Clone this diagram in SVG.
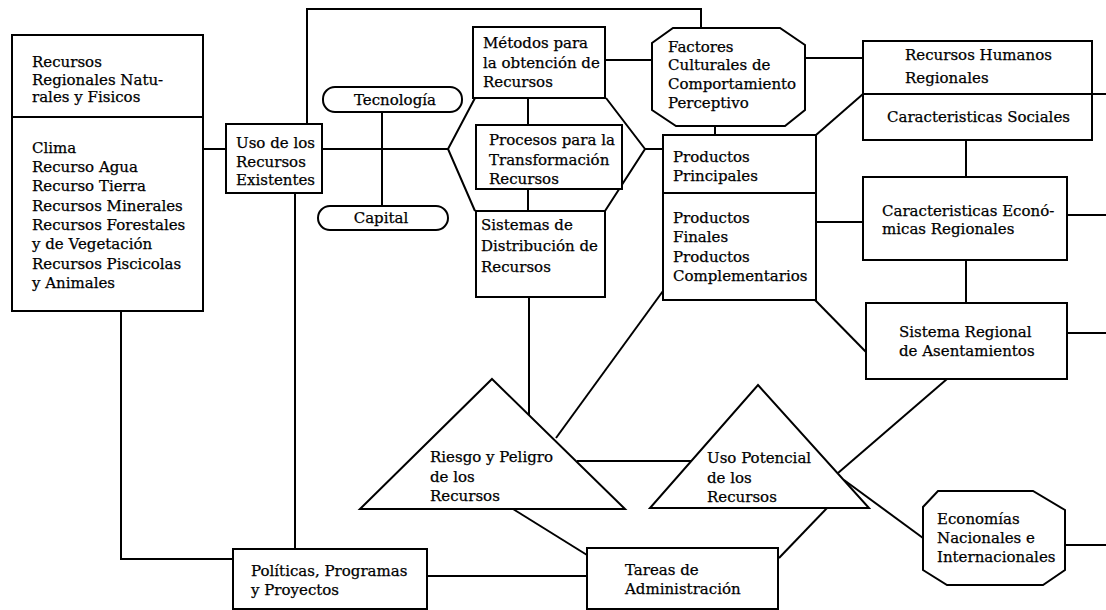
<svg xmlns="http://www.w3.org/2000/svg" width="1106" height="610" viewBox="0 0 1106 610">
<style>
.n{fill:#fff;stroke:#000;stroke-width:2}
.c{fill:none;stroke:#000;stroke-width:2}
text{font-family:"DejaVu Serif","Liberation Serif",serif;font-size:15px;fill:#000;stroke:#000;stroke-width:0.25}
</style>
<rect width="1106" height="610" fill="#fff"/>
<g id="connectors">
<path class="c" d="M203,149H226"/>
<path class="c" d="M307,124V9H701V28"/>
<path class="c" d="M322,149H448"/>
<path class="c" d="M382,112V206"/>
<path class="c" d="M475,98L448,149L475,211"/>
<path class="c" d="M606,98L645,149L605,211"/>
<path class="c" d="M528,98V125M528,189V211"/>
<path class="c" d="M529,297V415"/>
<path class="c" d="M645,149H663"/>
<path class="c" d="M605,60H652"/>
<path class="c" d="M805,58H863"/>
<path class="c" d="M715,126V135"/>
<path class="c" d="M816,135L863,94"/>
<path class="c" d="M816,222H863"/>
<path class="c" d="M966,140V177M966,260V303"/>
<path class="c" d="M1092,94H1106M1067,215H1106M1067,333H1106"/>
<path class="c" d="M815,300L866,352"/>
<path class="c" d="M663,291L556,438"/>
<path class="c" d="M577,461H691"/>
<path class="c" d="M513,509L587,555"/>
<path class="c" d="M827,508L779,558"/>
<path class="c" d="M838,473L947,379"/>
<path class="c" d="M844,480L923,538"/>
<path class="c" d="M1065,545H1106"/>
<path class="c" d="M121,311V559H233"/>
<path class="c" d="M295,193V549"/>
<path class="c" d="M427,576H587"/>
</g>
<g id="recursos-naturales">
<rect class="n" x="12" y="35" width="191" height="276"/>
<path class="c" d="M12,117H203"/>
<text x="32" y="67">Recursos</text>
<text x="32" y="85">Regionales Natu-</text>
<text x="32" y="102">rales y Fisicos</text>
<text x="32" y="153">Clima</text>
<text x="32" y="172">Recurso Agua</text>
<text x="32" y="191">Recurso Tierra</text>
<text x="32" y="211">Recursos Minerales</text>
<text x="32" y="230">Recursos Forestales</text>
<text x="32" y="249">y de Vegetación</text>
<text x="32" y="269">Recursos Piscicolas</text>
<text x="32" y="288">y Animales</text>
</g>
<g id="uso-recursos">
<rect class="n" x="226" y="124" width="96" height="69"/>
<text x="236" y="148">Uso de los</text>
<text x="236" y="167">Recursos</text>
<text x="236" y="185">Existentes</text>
</g>
<g id="tecnologia">
<rect class="n" x="323" y="87" width="139" height="25" rx="12" ry="12"/>
<text x="395" y="105" text-anchor="middle">Tecnología</text>
</g>
<g id="capital">
<rect class="n" x="318" y="206" width="130" height="24" rx="12" ry="12"/>
<text x="381" y="223" text-anchor="middle">Capital</text>
</g>
<g id="metodos">
<rect class="n" x="473" y="27" width="132" height="71"/>
<text x="483" y="48">Métodos para</text>
<text x="483" y="68">la obtención de</text>
<text x="483" y="87">Recursos</text>
</g>
<g id="procesos">
<rect class="n" x="476" y="125" width="146" height="64"/>
<text x="489" y="145">Procesos para la</text>
<text x="489" y="165">Transformación</text>
<text x="489" y="184">Recursos</text>
</g>
<g id="sistemas-distribucion">
<rect class="n" x="476" y="211" width="129" height="86"/>
<text x="481" y="230">Sistemas de</text>
<text x="481" y="251">Distribución de</text>
<text x="481" y="272">Recursos</text>
</g>
<g id="factores-culturales">
<polygon class="n" points="673,28 780,28 805,45 805,110 785,126 676,126 652,110 652,43"/>
<text x="668" y="52">Factores</text>
<text x="668" y="70">Culturales de</text>
<text x="668" y="89">Comportamiento</text>
<text x="668" y="108">Perceptivo</text>
</g>
<g id="recursos-humanos">
<rect class="n" x="863" y="41" width="229" height="99"/>
<path class="c" d="M863,94H1092"/>
<text x="905" y="60">Recursos Humanos</text>
<text x="905" y="83">Regionales</text>
<text x="887" y="122">Caracteristicas Sociales</text>
</g>
<g id="productos">
<rect class="n" x="663" y="135" width="153" height="165"/>
<path class="c" d="M663,193H816"/>
<text x="673" y="162">Productos</text>
<text x="673" y="181">Principales</text>
<text x="673" y="223">Productos</text>
<text x="673" y="242">Finales</text>
<text x="673" y="262">Productos</text>
<text x="673" y="281">Complementarios</text>
</g>
<g id="caracteristicas-economicas">
<rect class="n" x="863" y="177" width="204" height="83"/>
<text x="882" y="216">Caracteristicas Econó-</text>
<text x="882" y="234">micas Regionales</text>
</g>
<g id="sistema-regional">
<rect class="n" x="866" y="303" width="201" height="76"/>
<text x="899" y="337">Sistema Regional</text>
<text x="899" y="356">de Asentamientos</text>
</g>
<g id="riesgo-peligro">
<polygon class="n" points="492,379 625,509 360,509"/>
<text x="430" y="462">Riesgo y Peligro</text>
<text x="430" y="482">de los</text>
<text x="430" y="501">Recursos</text>
</g>
<g id="uso-potencial">
<polygon class="n" points="758,385 869,508 650,508"/>
<text x="707" y="463">Uso Potencial</text>
<text x="707" y="483">de los</text>
<text x="707" y="502">Recursos</text>
</g>
<g id="economias">
<polygon class="n" points="938,491 1033,491 1065,510 1065,570 1043,585 947,585 923,570 923,507"/>
<text x="937" y="524">Economías</text>
<text x="937" y="543">Nacionales e</text>
<text x="937" y="562">Internacionales</text>
</g>
<g id="politicas">
<rect class="n" x="233" y="549" width="194" height="60"/>
<text x="251" y="576">Políticas, Programas</text>
<text x="251" y="595">y Proyectos</text>
</g>
<g id="tareas">
<rect class="n" x="587" y="548" width="191" height="61"/>
<text x="625" y="575">Tareas de</text>
<text x="625" y="594">Administración</text>
</g>
</svg>
